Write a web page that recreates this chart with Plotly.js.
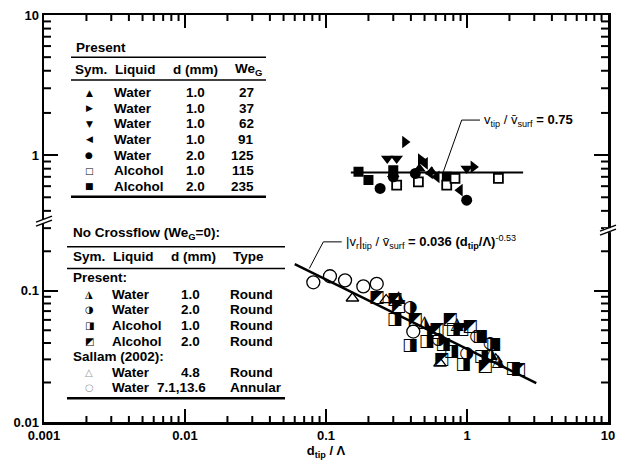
<!DOCTYPE html>
<html><head><meta charset="utf-8">
<script src="https://cdn.plot.ly/plotly-3.0.1.min.js"></script>
<style>body{margin:0;background:#fff}#chart{width:626px;height:463px}</style>
</head><body><div id="chart"></div>
<script>
// ---------- Data: crossflow (upper panel), v_tip / v_surf ----------
const we27X  = [0.30, 0.46, 0.56];          const we27Y  = [0.73, 0.80, 0.76];
const we37X  = [0.363, 0.47, 1.11];         const we37Y  = [1.24, 0.93, 0.824];
const we62X  = [0.272, 0.317, 0.995];       const we62Y  = [0.946, 0.946, 0.803];
const we91X  = [0.504, 0.547, 0.61, 0.891]; const we91Y  = [0.873, 0.745, 0.70, 0.562];
const we125X = [0.242, 0.30, 0.43, 0.995];  const we125Y = [0.578, 0.70, 0.74, 0.477];
const alc115X = [0.317, 0.452, 0.718, 0.822, 1.67]; const alc115Y = [0.611, 0.645, 0.611, 0.682, 0.682];
const alc235X = [0.170, 0.200, 0.30, 0.72]; const alc235Y = [0.760, 0.663, 0.78, 0.70];
const meanX = [0.15, 2.5]; const meanRatio = 0.75;

// ---------- Data: no crossflow (lower panel), |v_r|tip / v_surf ----------
const ncW10X = [0.327, 0.50, 0.85, 1.48, 1.67];
const ncW10Y = [0.088, 0.0566, 0.055, 0.0334, 0.0288];
const ncW20X = [0.395, 0.627, 1.17, 0.995, 1.46];
const ncW20Y = [0.0738, 0.0422, 0.045, 0.0334, 0.0398];
const ncA10X = [0.308, 0.395, 0.518, 0.68, 0.80, 0.942, 1.54, 2.13, 1.27, 0.778, 1.24];
const ncA10Y = [0.060, 0.038, 0.041, 0.0387, 0.0504, 0.0272, 0.0387, 0.0256, 0.0315, 0.0344, 0.0448];
const ncA20X = [0.229, 0.308, 0.326, 0.428, 0.577, 0.757, 0.916, 1.34, 2.31, 0.66, 1.05, 0.61];
const ncA20Y = [0.088, 0.085, 0.075, 0.060, 0.0475, 0.060, 0.0504, 0.0264, 0.0249, 0.0297, 0.0533, 0.0504];
const salRoundX = [0.154, 0.267, 0.644, 1.6];
const salRoundY = [0.0877, 0.0851, 0.028, 0.030];
const salAnnX = [0.0813, 0.1067, 0.1365, 0.184, 0.229, 0.416];
const salAnnY = [0.116, 0.129, 0.120, 0.108, 0.113, 0.0489];
const fitCoef = 0.036, fitExp = -0.53; const fitX = [0.06, 3.1];

// ---------- Tick labels ----------
const xTickVals = [0.001, 0.01, 0.1, 1, 10];
const xTickText = ['0.001', '0.01', '0.1', '1', '10'];
const yUpVals = [1, 10];     const yUpText = ['1', '10'];
const yLoVals = [0.01, 0.1]; const yLoText = ['0.01', '0.1'];

// ---------- Legend tables ----------
const presKeys = ['▲', '▶', '▼', '◀', '●', '□', '■'];
const presLiquid = ['Water', 'Water', 'Water', 'Water', 'Water', 'Alcohol', 'Alcohol'];
const presD = ['1.0', '1.0', '1.0', '1.0', '2.0', '1.0', '2.0'];
const presWe = ['27', '37', '62', '91', '125', '115', '235'];
const ncKeys = ['◮', '◑', '◨', '◩'];
const ncLiquid = ['Water', 'Water', 'Alcohol', 'Alcohol'];
const ncD = ['1.0', '2.0', '1.0', '2.0'];
const ncType = ['Round', 'Round', 'Round', 'Round'];
const salKeys = ['△', '○'];
const salLiquid = ['Water', 'Water'];
const salD = ['4.8', '7.1,13.6'];
const salType = ['Round', 'Annular'];

// ---------- helpers ----------
const FONT = 'Liberation Sans, Arial, Helvetica, sans-serif';
const L = 44, R = 608, T = 15, B = 421.7;
const PX = p => (p - L) / (R - L);
const PY = p => (B - p) / (B - T);
const X_RANGE = [-3, 1], YLO_RANGE = [-2, -0.5], YUP_RANGE = [-0.5, 1];
const frac = (B - 225) / (B - T);
function minors(lo, hi, vmin, vmax) {
  const v = [];
  for (let d = lo; d < hi; d++) for (let k = 2; k <= 9; k++) {
    const t = k * Math.pow(10, d); if (t > vmin && t < vmax) v.push(t);
  }
  return v;
}
const rep = (s, n) => Array(n).fill(s);

const blk = 'black';
function mk(x, y, sym, size, open, ax) {
  return {x, y, xaxis: ax[0], yaxis: ax[1], mode: 'markers', type: 'scatter', showlegend: false,
    marker: {symbol: sym, size, color: open ? 'white' : blk, line: {color: blk, width: open ? 1.8 : 0}}};
}
function glyph(x, y, g, size) {
  return {x, y, xaxis: 'x', yaxis: 'y', mode: 'text', type: 'scatter', showlegend: false,
    text: rep(g, x.length), textposition: 'middle center',
    textfont: {family: 'DejaVu Sans', size, color: blk}};
}
const UP = ['x2', 'y2'];
const traces = [
  {x: meanX, y: meanX.map(() => meanRatio), xaxis: 'x2', yaxis: 'y2', mode: 'lines', line: {color: blk, width: 2}, showlegend: false},
  mk(alc235X, alc235Y, 'square', 10, false, UP),
  mk(alc115X, alc115Y, 'square', 9, true, UP),
  mk(we125X, we125Y, 'circle', 11, false, UP),
  mk(we27X, we27Y, 'triangle-up', 11, false, UP),
  mk(we37X, we37Y, 'triangle-right', 11, false, UP),
  mk(we62X, we62Y, 'triangle-down', 11, false, UP),
  mk(we91X, we91Y, 'triangle-left', 11, false, UP),
  {x: fitX, y: fitX.map(v => fitCoef * Math.pow(v, fitExp)), xaxis: 'x', yaxis: 'y', mode: 'lines', line: {color: blk, width: 2.5}, showlegend: false},
  {x: salAnnX, y: salAnnY, xaxis: 'x', yaxis: 'y', mode: 'markers', showlegend: false,
    marker: {symbol: 'circle-open', size: 13, color: blk, line: {color: blk, width: 1.3}}},
  {x: salRoundX, y: salRoundY, xaxis: 'x', yaxis: 'y', mode: 'markers', showlegend: false,
    marker: {symbol: 'triangle-up-open', size: 11, color: blk, line: {color: blk, width: 1.3}}},
  glyph(ncA20X, ncA20Y, '◩', 17),
  glyph(ncA10X, ncA10Y, '◨', 17),
  glyph(ncW20X, ncW20Y, '◑', 17),
  glyph(ncW10X, ncW10Y, '◮', 17)
];

// annotations & shapes
const ann = [], shp = [];
const TS = 13.5;
function txt(px, py, text, xa, size, color, family) {
  ann.push({xref: 'paper', yref: 'paper', x: PX(px), y: PY(py), text, showarrow: false,
    xanchor: xa, yanchor: 'middle', font: {family: family || FONT, size: size || TS, color: color || blk}});
}
function hline(x0, x1, y, w) {
  shp.push({type: 'line', xref: 'paper', yref: 'paper', x0: PX(x0), x1: PX(x1), y0: PY(y), y1: PY(y), line: {color: blk, width: w}});
}
function path(pts, w, color) {
  const d = pts.map((p, i) => (i ? 'L' : 'M') + PX(p[0]) + ',' + PY(p[1])).join(' ');
  shp.push({type: 'path', xref: 'paper', yref: 'paper', path: d, line: {color: color || blk, width: w}});
}
// minor ticks (positions follow the axis ranges)
const W = R - L, H = B - T;
minors(-3, 1, 0, 100).forEach(v => {
  const fx = (Math.log10(v) - X_RANGE[0]) / (X_RANGE[1] - X_RANGE[0]);
  shp.push({type: 'line', xref: 'paper', yref: 'paper', x0: fx, x1: fx, y0: 0, y1: 6 / H, line: {color: blk, width: 2}});
  shp.push({type: 'line', xref: 'paper', yref: 'paper', x0: fx, x1: fx, y0: 1, y1: 1 - 6 / H, line: {color: blk, width: 2}});
});
function yMinor(vals, rng, d0, d1) {
  vals.forEach(v => {
    const fy = d0 + (d1 - d0) * (Math.log10(v) - rng[0]) / (rng[1] - rng[0]);
    shp.push({type: 'line', xref: 'paper', yref: 'paper', x0: 0, x1: 7 / W, y0: fy, y1: fy, line: {color: blk, width: 2}});
    shp.push({type: 'line', xref: 'paper', yref: 'paper', x0: 1, x1: 1 - 7 / W, y0: fy, y1: fy, line: {color: blk, width: 2}});
  });
}
yMinor(minors(-2, 0, 0, 0.3162), YLO_RANGE, 0, frac);
yMinor(minors(-1, 1, 0.3163, 100), YUP_RANGE, frac, 1);

// upper table
txt(74, 47, '<b>Present</b>', 'left');
hline(71, 266, 57.3, 1.5);
txt(73, 69, '<b>Sym.</b>', 'left');
txt(113, 69, '<b>Liquid</b>', 'left');
txt(195, 69, '<b>d (mm)</b>', 'center');
txt(264, 69, '<b>We<sub>G</sub></b>', 'right');
hline(71, 266, 80, 1.5);
presKeys.forEach((k, i) => {
  const y = 92.5 + i * 15.6;
  txt(89, y, k, 'center', 9, blk, 'DejaVu Sans');
  txt(112, y, '<b>' + presLiquid[i] + '</b>', 'left');
  txt(195, y, '<b>' + presD[i] + '</b>', 'center');
  txt(256, y, '<b>' + presWe[i] + '</b>', 'right');
});
hline(71, 266, 196.7, 2.5);
// lower table
txt(71, 233.3, '<b>No Crossflow (We<sub>G</sub>=0):</b>', 'left');
hline(67, 285, 246.7, 1.5);
txt(71, 256.7, '<b>Sym.</b>', 'left');
txt(111, 256.7, '<b>Liquid</b>', 'left');
txt(193, 256.7, '<b>d (mm)</b>', 'center');
txt(231, 256.7, '<b>Type</b>', 'left');
hline(67, 285, 268.3, 1.5);
txt(71, 277, '<b>Present:</b>', 'left');
ncKeys.forEach((k, i) => {
  const y = 294 + i * 15.7;
  txt(89, y, k, 'center', 10, blk, 'DejaVu Sans');
  txt(110, y, '<b>' + ncLiquid[i] + '</b>', 'left');
  txt(190, y, '<b>' + ncD[i] + '</b>', 'center');
  txt(228, y, '<b>' + ncType[i] + '</b>', 'left');
});
txt(71, 356, '<b>Sallam (2002):</b>', 'left');
salKeys.forEach((k, i) => {
  const y = 372 + i * 15.7;
  txt(89, y, k, 'center', 10, '#999', 'DejaVu Sans');
  txt(110, y, '<b>' + salLiquid[i] + '</b>', 'left');
  txt(i ? 181 : 190, y, '<b>' + salD[i] + '</b>', 'center');
  txt(228, y, '<b>' + salType[i] + '</b>', 'left');
});
hline(67, 285, 398, 2.5);

// fit annotations with leader lines
path([[443.3, 171.7], [461.7, 120], [480, 120]], 1);
txt(482, 120, 'v<sub>tip</sub> / v\u0304<sub>surf</sub><b> = 0.75</b>', 'left', 13);
path([[309.3, 268.3], [323.3, 241.7], [341.7, 241.7]], 1);
txt(344, 241.7, '|v<sub>r</sub>|<sub>tip</sub> / v\u0304<sub>surf</sub><b> = 0.036 (d<sub>tip</sub>/\u039B)</b><sup>-0.53</sup>', 'left', 13);

// axis break marks
function brk(x, y) {
  shp.push({type: 'rect', xref: 'paper', yref: 'paper', x0: PX(x - 4), x1: PX(x + 4), y0: PY(y + 2), y1: PY(y - 2), fillcolor: 'white', line: {width: 0}});
  path([[x - 8, y + 5], [x + 8, y - 1]], 1.5);
  path([[x - 8, y + 1], [x + 8, y - 5]], 1.5);
}
brk(L, 221);
brk(R, 230);

const tickF = {family: FONT, size: 13, color: blk, weight: 'bold'};
const common = {showline: true, linecolor: blk, linewidth: 2.5, ticks: 'inside', tickcolor: blk,
  tickwidth: 2, showgrid: false, zeroline: false, type: 'log', tickmode: 'array', tickfont: tickF};
const layout = {
  width: 626, height: 463, paper_bgcolor: 'white', plot_bgcolor: 'white',
  margin: {l: L, r: 626 - R, t: T, b: 463 - B, pad: 0},
  showlegend: false,
  xaxis: Object.assign({}, common, {range: X_RANGE, domain: [0, 1], anchor: 'y', side: 'bottom',
    tickvals: xTickVals, ticktext: xTickText, ticklen: 13,
    title: {text: '<b>d<sub>tip</sub> / \u039B</b>', font: {family: FONT, size: 13, color: blk}, standoff: 2}}),
  xaxis2: Object.assign({}, common, {range: X_RANGE, domain: [0, 1], anchor: 'y2', side: 'top',
    tickvals: xTickVals, ticktext: xTickText, ticklen: 13, showticklabels: false}),
  yaxis: Object.assign({}, common, {range: YLO_RANGE, domain: [0, frac], anchor: 'x', mirror: 'allticks',
    tickvals: yLoVals, ticktext: yLoText, ticklen: 14}),
  yaxis2: Object.assign({}, common, {range: YUP_RANGE, domain: [frac, 1], anchor: 'x2', mirror: 'allticks',
    tickvals: yUpVals, ticktext: yUpText, ticklen: 14}),
  annotations: ann,
  shapes: shp
};
Plotly.newPlot('chart', traces, layout, {staticPlot: true, displayModeBar: false});
</script>
</body></html>
